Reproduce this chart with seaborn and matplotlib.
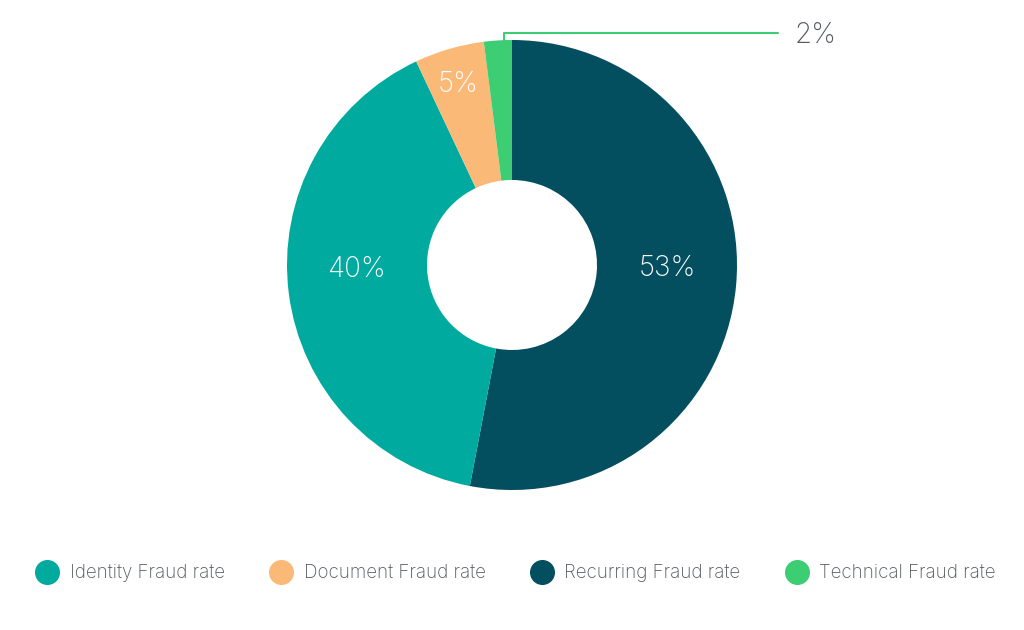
import matplotlib
matplotlib.use("Agg")
import matplotlib.pyplot as plt
from matplotlib.lines import Line2D
import numpy as np
import seaborn as sns

# data, in drawing order (clockwise from 12 o'clock)
categories = ["Recurring Fraud rate", "Identity Fraud rate", "Document Fraud rate", "Technical Fraud rate"]
shares = [53, 40, 5, 2]
colors = ["#034e5f", "#00aa9e", "#fbb978", "#3dcd73"]

# legend order as in the reference
legend_order = ["Identity Fraud rate", "Document Fraud rate", "Recurring Fraud rate", "Technical Fraud rate"]

sns.set_theme(style="white")
plt.rcParams['font.family'] = ['Inter', 'DejaVu Sans']

fig = plt.figure(figsize=(10.24, 6.3), dpi=100)
ax = fig.add_axes([(512 - 225) / 1024, (630 - 490) / 630, 450 / 1024, 450 / 630])

def fmt(p):
    return "" if p < 3 else f"{p:.0f}%"

wedges, _, autotexts = ax.pie(
    shares, colors=colors, startangle=90, counterclock=False,
    autopct=fmt, pctdistance=0.69,
    wedgeprops=dict(width=1 - 85 / 225, linewidth=0),
    textprops=dict(color="white", fontsize=20, fontweight="light"),
)
ax.set_aspect("equal")
ax.set_xlim(-1, 1)
ax.set_ylim(-1, 1)

# label positions nudged to match the reference
autotexts[0].set_position((0.69, -0.015))
autotexts[1].set_position((-0.69, -0.02))
autotexts[2].set_position((-0.24, 0.80))

# leader line for the tiny slice
w = wedges[3]
ang = np.deg2rad(w.theta1 + 0.3 * (w.theta2 - w.theta1))
x0, y0 = np.cos(ang) * 0.99, np.sin(ang) * 0.99
ax.plot([x0, x0, 1.18], [y0, 1.03, 1.03], color="#3dcd73", lw=1.5, clip_on=False)
ax.text(1.255, 1.02, "2%", color="#555a5e", fontsize=20, fontweight="light",
        va="center", ha="left", clip_on=False)

handles = []
for name in legend_order:
    c = colors[categories.index(name)]
    handles.append(Line2D([], [], marker="o", linestyle="", markersize=17,
                          markerfacecolor=c, markeredgecolor=c, label=name))
fig.legend(handles=handles, loc="center", bbox_to_anchor=(0.5, 0.09), ncol=4,
           frameon=False, fontsize=13.5, handletextpad=0.2, columnspacing=2.0,
           labelcolor="#555a5e", prop=dict(size=13.5, weight="light"))

fig.savefig("out.png", dpi=100, facecolor="white")
